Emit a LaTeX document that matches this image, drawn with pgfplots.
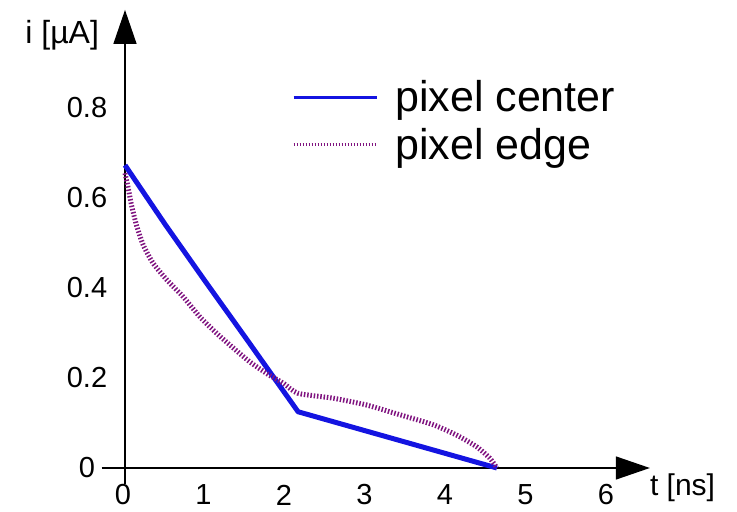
\documentclass[border=0pt]{standalone}
\usepackage{pgfplots}
\pgfplotsset{compat=1.18}
\usepackage{fontspec}
\setmainfont{Liberation Sans}
\usetikzlibrary{arrows.meta}
\definecolor{cblue}{RGB}{20,20,225}
\definecolor{cpurp}{RGB}{128,20,128}
\begin{document}
\begin{tikzpicture}
\begin{axis}[
  anchor=origin, at={(0bp,0bp)},
  x=80.5bp, y=450bp,
  xmin=-0.29, xmax=6.52, ymin=-0.035, ymax=1.018,
  axis lines=middle,
  axis line style={line width=1.3bp, -{Triangle[length=34bp,width=23bp]}},
  xtick={0,1,2,3,4,5,6}, ytick={0,0.2,0.4,0.6,0.8},
  major tick length=0pt,
  hide obscured x ticks=false, hide obscured y ticks=false,
  clip=false,
  /pgf/number format/assume math mode=true,
  ticklabel style={font=\fontsize{29bp}{34bp}\selectfont, inner sep=0pt},
  xticklabel style={anchor=center, yshift=-27bp, xshift=-2bp},
  yticklabel style={anchor=center, xshift=-38bp},
  xlabel={t [ns]}, ylabel={i [µA]},
  xlabel style={at={(axis cs:6.52,-0.044)}, anchor=west, inner sep=0pt, font=\fontsize{30bp}{36bp}\selectfont},
  ylabel style={at={(axis cs:-0.78,0.962)}, anchor=center, inner sep=0pt, font=\fontsize{32bp}{38bp}\selectfont},
  legend style={at={(axis cs:2.075,0.861)}, anchor=north west, draw=none, fill=none, inner sep=0pt,
    font=\fontsize{43bp}{50bp}\selectfont, row sep=15bp,
    nodes={inner sep=0pt},
    /tikz/every odd column/.append style={column sep=17bp}},
  legend cell align=left,
  legend image code/.code={\draw[#1] (0bp,0bp) -- (83bp,0bp);},
]
\addplot[forget plot, cblue, line width=5bp, line join=round] coordinates {
  (0,0.673) (0.5,0.541) (1.0,0.414) (1.5,0.289) (2.15,0.125) (4.62,0)
};
\addplot[forget plot, cpurp, line width=5bp, dash pattern=on 1.5bp off 1.8bp, smooth, tension=0.4] coordinates {
  (0,0.655) (0.04,0.622) (0.08,0.585) (0.145,0.538) (0.23,0.494) (0.35,0.455)
  (0.52,0.418) (0.72,0.381) (0.93,0.336) (1.14,0.299) (1.35,0.266) (1.55,0.236)
  (1.76,0.210) (1.97,0.188) (2.15,0.166) (2.59,0.155) (3.0,0.14) (3.42,0.118)
  (3.83,0.096) (4.12,0.073) (4.37,0.047) (4.53,0.022) (4.62,0.0)
};
\addlegendimage{cblue, line width=3bp}
\addlegendentry{pixel center}
\addlegendimage{cpurp, line width=2.5bp, dash pattern=on 1.5bp off 1.5bp}
\addlegendentry{pixel edge}
\end{axis}
\pgfresetboundingbox
\useasboundingbox (-125bp,-44bp) rectangle (612bp,468bp);
\end{tikzpicture}
\end{document}
